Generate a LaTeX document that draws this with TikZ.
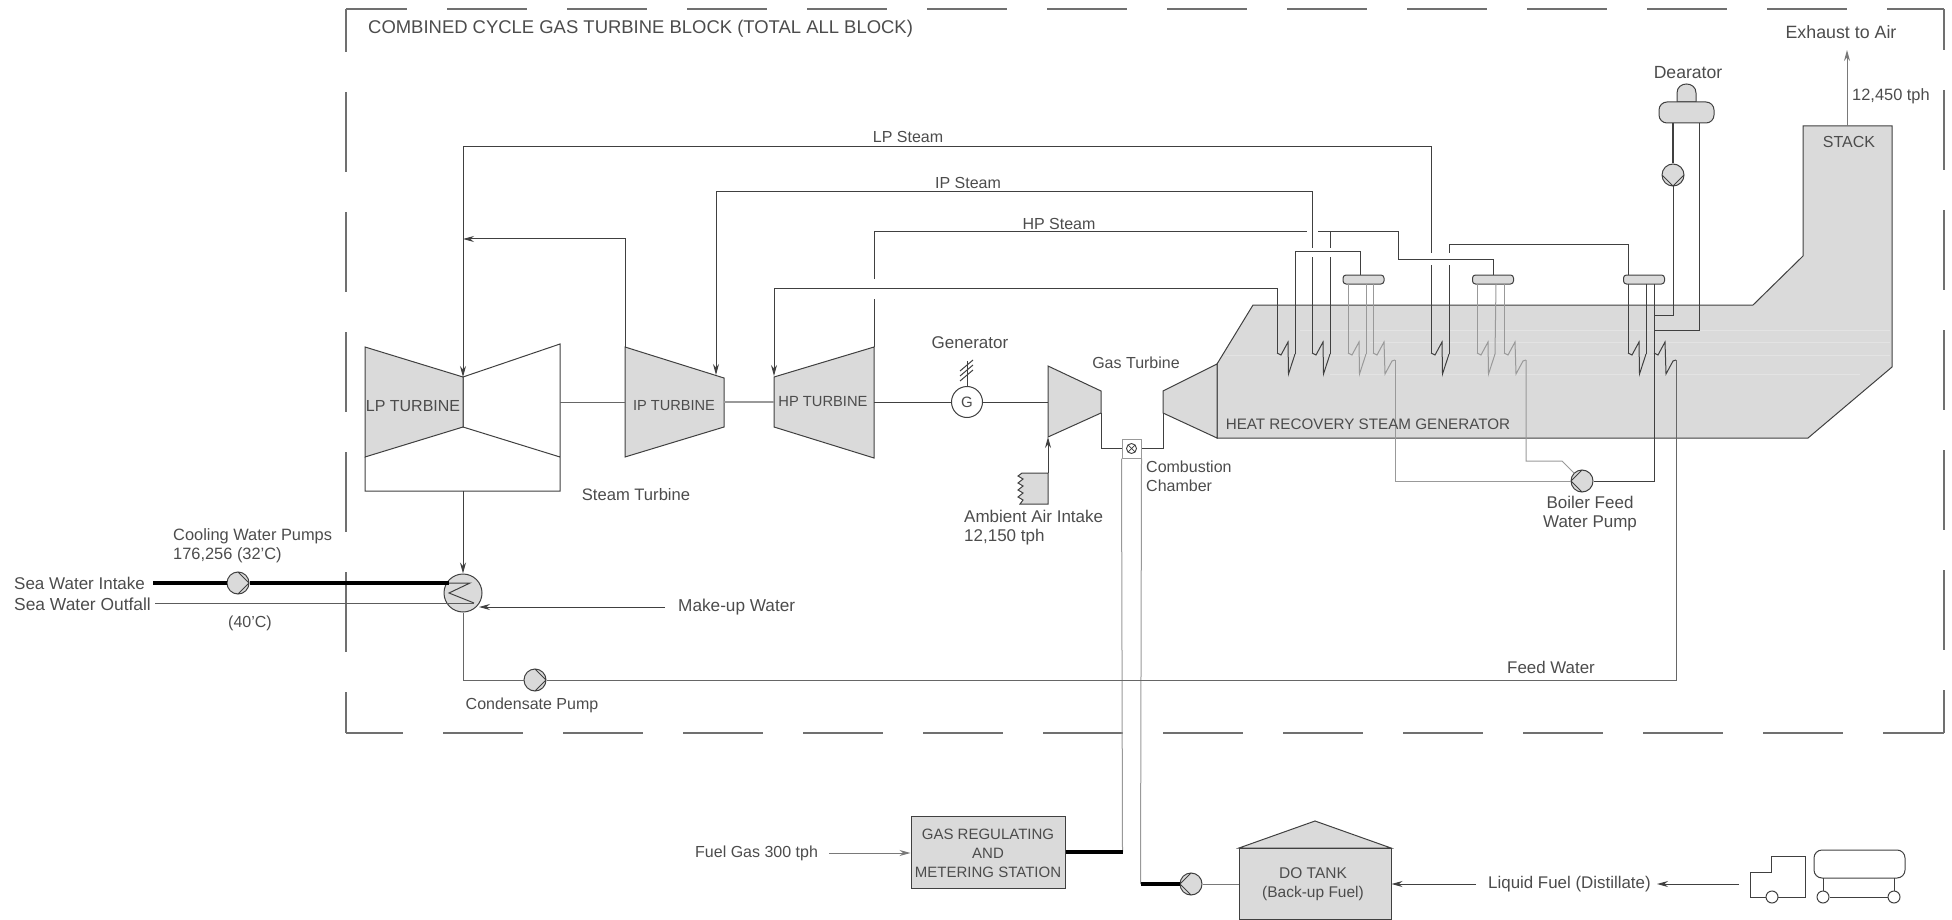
\documentclass[tikz,border=0pt]{standalone}
\usepackage{fontspec}
\setmainfont{Liberation Sans}
\usetikzlibrary{arrows.meta,calc}
\definecolor{ln}{gray}{0.25}
\definecolor{lg}{gray}{0.6}
\definecolor{fl}{gray}{0.855}
\definecolor{tx}{gray}{0.3}
\tikzset{
 pipe/.style={draw=ln,line width=1pt},
 lite/.style={draw=lg,line width=1pt},
 heavy/.style={draw=black,line width=3.4pt},
 hd/.style={-{Stealth[length=11pt,width=6pt]}},
 shape fill/.style={draw=ln,line width=1pt,fill=fl},
 frameline/.style={draw=ln!75,line width=1.2pt,dash pattern=on 80pt off 40pt},
 streak/.style={draw=fl!75!white,line width=.8pt},
 fs/.style={font=\fontsize{#1}{19}\selectfont},
 lbl/.style={fs=16,text=tx,inner sep=0pt,anchor=west,align=left},
 clbl/.style={lbl,anchor=center,align=center},
 pumpbase/.style={circle,draw=ln,line width=1pt,fill=fl,minimum size=22pt,inner sep=0pt},
 pumpR/.style={pumpbase,path picture={\draw[ln,line width=.8pt] (path picture bounding box.north) -- (path picture bounding box.east) -- (path picture bounding box.south);}},
 pumpL/.style={pumpbase,path picture={\draw[ln,line width=.8pt] (path picture bounding box.north) -- (path picture bounding box.west) -- (path picture bounding box.south);}},
 pumpD/.style={pumpbase,path picture={\draw[ln,line width=.8pt] (path picture bounding box.west) -- (path picture bounding box.south) -- (path picture bounding box.east);}},
 drum/.style={draw=ln,line width=1pt,fill=fl,rounded corners=3pt,minimum width=41pt,minimum height=9pt,inner sep=0pt},
}
% coil: name, left x, style
\newcommand\coilplain[3]{%
 \coordinate (#1-l) at (#2,353);\coordinate (#1-r) at ({#2+18},354);
 \draw[#3,line join=miter] (#1-l) -- ({#2+4},355) -- ({#2+11},342) -- ({#2+11.5},374) -- (#1-r);}
\newcommand\coiltail[3]{%
 \coordinate (#1-l) at (#2,353);\coordinate (#1-r) at ({#2+22},360);
 \draw[#3,line join=miter] (#1-l) -- ({#2+4},355) -- ({#2+11},342) -- ({#2+12},374) -- ({#2+19},361) -- (#1-r);}
\begin{document}
\begin{tikzpicture}[x=1pt,y=-1pt]
\useasboundingbox (0,0) rectangle (1952,920);
% frame
\draw[frameline,dash phase=19pt] (346,9) -- (1944,9);
\draw[frameline,dash phase=39pt] (1944,9) -- (1944,733);
\draw[frameline,dash phase=23pt] (346,733) -- (1944,733);
\draw[frameline,dash phase=37pt] (346,9) -- (346,733);
% HRSG and stack
\draw[shape fill,line join=miter] (1217,364) -- (1253,305) -- (1753,305) -- (1803,256) -- (1803,126) -- (1892,126) -- (1892,367) -- (1808,438) -- (1217,438) -- cycle;
\draw[streak] (1300,330) -- (1890,330);
\draw[streak] (1370,342) -- (1890,342);
\draw[streak] (1225,355) -- (1890,355);
\draw[streak] (1330,374) -- (1860,374);
% gas turbine
\draw[shape fill] (1048,366) -- (1101,391) -- (1101,413) -- (1048,437) -- cycle;
\draw[shape fill] (1217,364) -- (1163,391) -- (1163,413) -- (1217,438) -- cycle;
% steam turbines
\draw[draw=ln,line width=1pt,fill=white] (365,457) -- (365,491) -- (560,491) -- (560,344) -- (463,377) -- (463,427) -- (560,457);
\draw[shape fill] (365,347) -- (463,377) -- (463,427) -- (365,457) -- cycle;
\draw[shape fill] (625,347) -- (724,378) -- (724,427) -- (625,457) -- cycle;
\draw[shape fill] (874,347) -- (774,377) -- (774,427) -- (874,458) -- cycle;
\coordinate (lpBox) at (463,491);
\coordinate (lpTop) at (463,377);
\coordinate (lpShaft) at (560,402);
\coordinate (ipShaftL) at (625,402);
\coordinate (ipShaftR) at (724,402);
\coordinate (hpShaftL) at (774,402);
\coordinate (hpShaftR) at (874,402);
\coordinate (gtL) at (1048,402);
\coordinate (ipExit) at (625,347);
\coordinate (ipIn) at (714,375);
\coordinate (hpIn) at (774,376);
\coordinate (hpTop) at (874,347);
\draw[lite,draw=ln!80] (lpShaft) -- (ipShaftL);
\draw[draw=lg,line width=2.4pt] (ipShaftR) -- (hpShaftL);
% generator
\node[circle,draw=ln,line width=1pt,fill=white,minimum size=31pt,inner sep=0pt,fs=15,text=tx] (gen) at (967,402) {G};
\draw[pipe] (hpShaftR) -- (gen);
\draw[pipe] (gen) -- (gtL);
\coordinate (genTop) at (967,361);
\draw[pipe] (gen) -- (genTop);
\draw[ln,line width=1pt] (960,371) -- (973,360) (960,376) -- (973,365) (960,381) -- (973,370);
% air intake
\draw[shape fill] (1048,473) -- (1048,504) -- (1020,504) -- (1023,500) -- (1018,497) -- (1023,493) -- (1018,490) -- (1023,486) -- (1018,483) -- (1023,479) -- (1018,476) -- (1022,473) -- cycle;
\coordinate (airTop) at (1048,473);
\coordinate (gtIn) at (1048,437);
\draw[pipe,hd] (airTop) -- (gtIn);
% combustion chamber
\node[draw=lg,line width=1pt,fill=white,minimum size=19pt,inner sep=0pt] (cc) at (1131.5,448.5) {};
\node[circle,draw=ln,line width=.9pt,minimum size=10pt,inner sep=0pt,path picture={\draw[ln,line width=.7pt] (path picture bounding box.north west) -- (path picture bounding box.south east) (path picture bounding box.north east) -- (path picture bounding box.south west);}] (ccx) at (cc) {};
\coordinate (gtOutA) at (1101,413);
\coordinate (gtOutB) at (1163,413);
\draw[pipe] (gtOutA) |- (cc.west);
\draw[pipe] (gtOutB) |- (cc.east);
% lower equipment
\node[shape fill,minimum width=154pt,minimum height=72pt,inner sep=0pt] (grs) at (988,852) {};
\draw[shape fill] (1239,848) -- (1315,821) -- (1391,848) -- cycle;
\node[shape fill,anchor=north,minimum width=152pt,minimum height=71pt,inner sep=0pt] (tank) at (1315,848) {};
\node[pumpL] (doPump) at (1191,884) {};
\coordinate (ccA) at (1122.5,852);
\coordinate (ccB) at (1140.5,884);
\draw[lite] (cc.south west) -- (ccA);
\draw[lite] (cc.south east) -- (ccB);
\draw[heavy] (grs.east) -- (ccA);
\draw[heavy] (ccB) -- (doPump.west);
\draw[lite,draw=ln!70] (doPump.east) -- (tank.west |- doPump);
\node[lbl] (fuelLbl) at (695,853) {Fuel Gas 300 tph};
\draw[lite,draw=ln!70,hd] (829,853) -- (grs.west |- fuelLbl);
\node[lbl,fs=16.9] (liqLbl) at (1488,884) {Liquid Fuel (Distillate)};
\coordinate (tankArrowR) at (1476,884);
\coordinate (truckArrowR) at (1739,884);
\coordinate (truckArrowL) at (1657,884);
\draw[pipe,hd] (tankArrowR) -- (tank.east |- tankArrowR);
\draw[pipe,hd] (truckArrowR) -- (truckArrowL);
% truck
\draw[ln,line width=1pt] (1750,897) -- (1750,872) -- (1771,872) -- (1771,856) -- (1805,856) -- (1805,897) -- (1750,897);
\node[circle,draw=ln,line width=1pt,fill=white,minimum size=12pt,inner sep=0pt] (whA) at (1772,897) {};
\draw[ln,line width=1pt,rounded corners=8pt] (1814,850) rectangle (1905,878);
\node[circle,draw=ln,line width=1pt,fill=white,minimum size=12pt,inner sep=0pt] (whB) at (1823,897) {};
\node[circle,draw=ln,line width=1pt,fill=white,minimum size=12pt,inner sep=0pt] (whC) at (1894,897) {};
\draw[ln,line width=1pt] (whB) -- (whC);
\draw[ln,line width=1pt] (whB) -- (1823,878);
\draw[ln,line width=1pt] (whC) -- (1894,878);
% condenser and sea water
\node[circle,draw=ln,line width=1pt,fill=fl,minimum size=38pt,inner sep=0pt] (cond) at (463,593) {};
\node[pumpR] (cwPump) at (238,583) {};
\node[pumpR] (cPump) at (535,680) {};
\coordinate (swIn) at (153,583);
\coordinate (swInEnd) at (449,583);
\coordinate (swOut) at (155,603);
\coordinate (swOutEnd) at (474,603);
\draw[heavy] (swIn) -- (cwPump);
\draw[heavy] (cwPump) -- (swInEnd);
\draw[lite,draw=ln!85] (swOut) -- (swOutEnd);
\draw[ln,line width=1pt] (swInEnd) -- (470,583) -- (449,593) -- (swOutEnd);
\draw[pipe,hd] (lpBox) -- (cond.north);
\coordinate (muStart) at (665,607);
\coordinate (muEnd) at (479,607);
\draw[pipe,hd] (muStart) -- (muEnd);
% coils
\coilplain{ca}{1277}{pipe}
\coilplain{cb}{1312}{pipe}
\coilplain{cc}{1348}{lite}
\coiltail{cd}{1373}{lite}
\coilplain{ce}{1431}{pipe}
\coilplain{cf}{1477}{lite}
\coiltail{cg}{1504}{lite}
\coilplain{ch}{1628}{pipe}
\coiltail{ci}{1654}{pipe}
% drums
\node[drum] (d1) at (1363.5,279.5) {};
\node[drum] (d2) at (1493,279.5) {};
\node[drum] (d3) at (1644,279.5) {};
% steam piping
\draw[pipe] (ca-l) -- (1277,288) -- (774,288) -- (774,330);
\draw[pipe,hd] (774,288) -- (hpIn);
\draw[pipe] (hpTop) -- (874,299);
\draw[pipe] (874,279) -- (874,232) -- (1307,232);
\draw[pipe] (1318,232) -- (1398,232) -- (1398,260) -- (1493,260) -- (d2.north);
\draw[pipe] (ca-r) -- (1295,252) -- (1360,252) -- (1360,275);
\draw[pipe] (cb-l) -- (1312,257);
\draw[pipe] (1312,248) -- (1312,192) -- (716,192);
\draw[pipe,hd] (716,192) -- (716,375);
\draw[pipe] (cb-r) -- (1330,257);
\draw[pipe] (1330,248) -- (1330,232);
\draw[pipe] (ce-l) -- (1431,265);
\draw[pipe] (1431,253) -- (1431,147) -- (463,147);
\draw[pipe,hd] (463,147) -- (lpTop);
\draw[pipe,hd] (ipExit) -- (625,239) -- (463,239);
\draw[pipe] (ce-r) -- (1449,265);
\draw[pipe] (1449,253) -- (1449,245) -- (1628,245) -- (1628,275);
\draw[pipe] (1628,284) -- (ch-l);
\draw[pipe] (1646,284) -- (ch-r);
\draw[lite] (1348,284) -- (cc-l);
\draw[lite] (1366,284) -- (cc-r);
\draw[lite] (1373,284) -- (cd-l);
\draw[lite] (1477,284) -- (cf-l);
\draw[lite] (1496,284) -- (cf-r);
\draw[lite] (1504,284) -- (cg-l);
% boiler feed
\node[pumpL] (bfp) at (1582,481) {};
\draw[lite] (cd-r) |- (bfp.west);
\draw[lite] (cg-r) -- (1526,461) -- (1562,461) -- (bfp.north west);
\draw[pipe] (bfp.east) -- (1654,481) -- (1654,284);
% feed water
\draw[lite,draw=ln!80] (cond.south) |- (cPump.west);
\draw[lite,draw=ln!80] (cPump.east) -- (ci-r |- cPump) -- (ci-r);
% dearator
\node[pumpD] (dPump) at (1673,175) {};
\draw[shape fill] (1677,102) -- (1677,93) .. controls (1677,81) and (1696,81) .. (1696,93) -- (1696,102) -- cycle;
\node[draw=ln,line width=1pt,fill=fl,rounded corners=8pt,minimum width=55pt,minimum height=21pt,inner sep=0pt] (dea) at (1686.5,112.5) {};
\draw[pipe,line width=1.5pt] (dea.south -| dPump) -- (dPump.north);
\draw[pipe] (dPump.south) -- (1673,315) -- (1654,315);
\draw[pipe] (1699,123) -- (1699,330) -- (1654,330);
% stack
\coordinate (stackTop) at (1847,126);
\coordinate (stackOut) at (1847,50);
\draw[lite,draw=ln!70,hd] (stackTop) -- (stackOut);
% labels
\node[lbl,fs=18.45] (tTitle) at (368,29) {COMBINED CYCLE GAS TURBINE BLOCK (TOTAL ALL BLOCK)};
\node[clbl] (tLP) at (908,137) {LP Steam};
\node[clbl] (tIP) at (968,183) {IP Steam};
\node[clbl] (tHP) at (1059,224) {HP Steam};
\node[clbl,fs=17] (tGen) at (970,343) {Generator};
\node[clbl] (tGT) at (1136,363) {Gas Turbine};
\node[lbl] (tCC) at (1146,476) {Combustion\\Chamber};
\node[lbl,fs=17] (tAir) at (964,528) {Ambient Air Intake\\12,150 tph};
\node[clbl,fs=16.6] (tST) at (636,495) {Steam Turbine};
\node[lbl,fs=16.4] (tCW) at (173,546) {Cooling Water Pumps\\176,256 (32'C)};
\node[lbl,fs=17] (tSI) at (14,583) {Sea Water Intake};
\node[lbl,fs=17.4] (tSO) at (14,604) {Sea Water Outfall};
\node[clbl] (t40) at (250,623) {(40'C)};
\node[lbl,fs=17.2] (tMU) at (678,607) {Make-up Water};
\node[clbl] (tCP) at (532,705) {Condensate Pump};
\node[clbl,fs=16.9] (tFW) at (1551,667) {Feed Water};
\node[clbl,fs=17] (tBF) at (1590,514) {Boiler Feed\\Water Pump};
\node[clbl,fs=15.2] (tHR) at (1368,424) {HEAT RECOVERY STEAM GENERATOR};
\node[clbl] (tStack) at (1849,142) {STACK};
\node[clbl,fs=17.8] (tEx) at (1841,32) {Exhaust to Air};
\node[lbl,fs=16.4] (tTph) at (1852,96) {12,450 tph};
\node[clbl,fs=17.6] (tDea) at (1688,73) {Dearator};
\node[clbl] (tLPt) at (413,406) {LP TURBINE};
\node[clbl,fs=14.6] (tIPt) at (674,406) {IP TURBINE};
\node[clbl,fs=14.7] (tHPt) at (823,402) {HP TURBINE};
\node[clbl,fs=15] (tGRS) at (988,853) {GAS REGULATING\\AND\\METERING STATION};
\node[clbl,fs=15.5] (tDO) at (1313,884) {DO TANK\\(Back-up Fuel)};
\end{tikzpicture}
\end{document}
